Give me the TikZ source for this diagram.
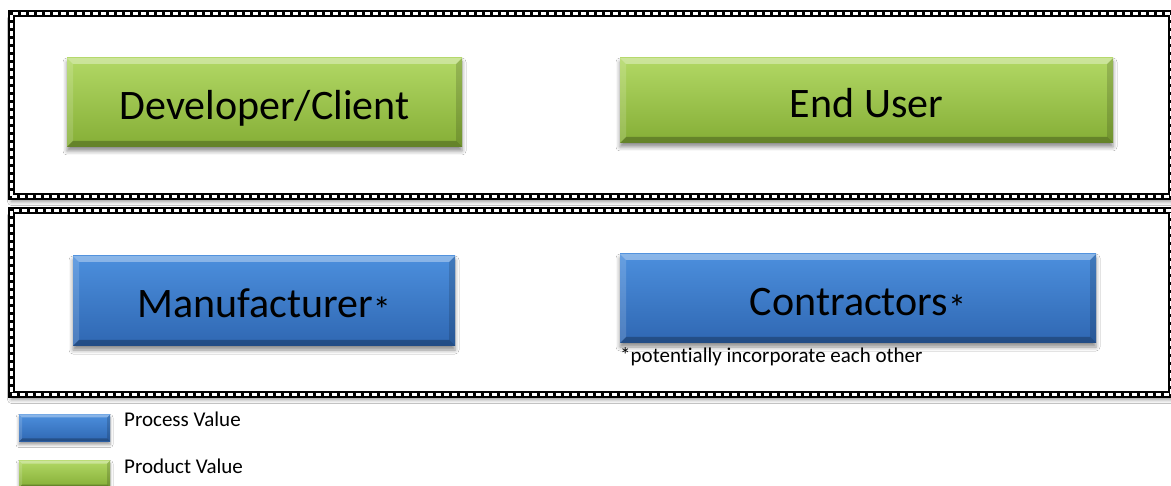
\documentclass[tikz,border=0pt]{standalone}
\usepackage{fontspec}
\setmainfont{Carlito}[Ligatures=NoCommon]
\usetikzlibrary{shadows.blur}

\definecolor{grnLight}{HTML}{B2D865}
\definecolor{grnDark}{HTML}{85AE36}
\definecolor{bluLight}{HTML}{4C8FDD}
\definecolor{bluDark}{HTML}{2F67B2}

% bevelled edge drawn inside a box
\newcommand{\bevelrim}[1]{%
  \fill[white,opacity=0.35] (path picture bounding box.north west) -- (path picture bounding box.north east)
     -- ([xshift=-#1,yshift=-#1]path picture bounding box.north east) -- ([xshift=#1,yshift=-#1]path picture bounding box.north west) -- cycle;
  \fill[white,opacity=0.15] (path picture bounding box.north west) -- (path picture bounding box.south west)
     -- ([xshift=#1,yshift=#1]path picture bounding box.south west) -- ([xshift=#1,yshift=-#1]path picture bounding box.north west) -- cycle;
  \fill[black,opacity=0.15] (path picture bounding box.north east) -- (path picture bounding box.south east)
     -- ([xshift=-#1,yshift=#1]path picture bounding box.south east) -- ([xshift=-#1,yshift=-#1]path picture bounding box.north east) -- cycle;
  \fill[black,opacity=0.25] (path picture bounding box.south west) -- (path picture bounding box.south east)
     -- ([xshift=-#1,yshift=#1]path picture bounding box.south east) -- ([xshift=#1,yshift=#1]path picture bounding box.south west) -- cycle;
}
% footnote asterisk, set at mid height of the label
\newcommand{\notemark}{\raisebox{-5pt}{\fontsize{36}{38}\selectfont*}}

\tikzset{
  valuebox/.style={rectangle, inner sep=0pt, outer sep=0pt,
    font=\fontsize{42}{46}\selectfont, text height=34pt, text depth=0pt,
    blur shadow={shadow xshift=0pt, shadow yshift=-4pt, shadow blur radius=4pt, shadow opacity=45}},
  productbox/.style={valuebox, top color=grnLight, bottom color=grnDark,
    path picture={\bevelrim{6pt}}},
  processbox/.style={valuebox, top color=bluLight, bottom color=bluDark,
    path picture={\bevelrim{6pt}}},
  keybox/.style={rectangle, inner sep=0pt, outer sep=0pt,
    blur shadow={shadow xshift=0pt, shadow yshift=-3pt, shadow blur radius=3pt, shadow opacity=40},
    path picture={\bevelrim{3pt}}},
  groupframe/.style={rectangle, inner sep=0pt, outer sep=0pt, draw=black, fill=white, line width=6.5pt,
    blur shadow={shadow xshift=0pt, shadow yshift=-5pt, shadow blur radius=4pt, shadow opacity=45},
    postaction={draw=white, line width=2.2pt, dash pattern=on 5pt off 3pt}},
  smalltext/.style={font=\fontsize{21}{24}\selectfont, inner sep=0pt, anchor=base west}
}

\begin{document}
\begin{tikzpicture}[x=1pt,y=-1pt]
\useasboundingbox[fill=white] (0,0) rectangle (1171,486);

% group frames
\node[groupframe, minimum width=1159.5pt, minimum height=183pt] (topgroup) at (591.25,105) {};
\node[groupframe, minimum width=1159.5pt, minimum height=184pt] (bottomgroup) at (591.25,302.5) {};

% stakeholders with product value
\node[productbox, minimum width=395pt, minimum height=89pt] (client) at (264.5,102.5) {Developer/Client};
\node[productbox, minimum width=493pt, minimum height=85pt] (enduser) at (866.5,100.5) {End User};

% stakeholders with process value
\node[processbox, minimum width=382pt, minimum height=90pt] (manufacturer) at (264,301) {Manufacturer\notemark};
\node[processbox, minimum width=476pt, minimum height=89pt] (contractors) at (858,298.5) {Contractors\notemark};

\node[smalltext] (note) at (620,363) {*potentially incorporate each other};

% key
\node[keybox, top color=bluLight, bottom color=bluDark, minimum width=91pt, minimum height=27pt] (keyprocess) at (64.5,428) {};
\node[keybox, top color=grnLight, bottom color=grnDark, minimum width=91pt, minimum height=27pt] (keyproduct) at (64.5,474) {};
\node[smalltext] (processlabel) at (124,427) {Process Value};
\node[smalltext] (productlabel) at (124,473) {Product Value};
\end{tikzpicture}
\end{document}
